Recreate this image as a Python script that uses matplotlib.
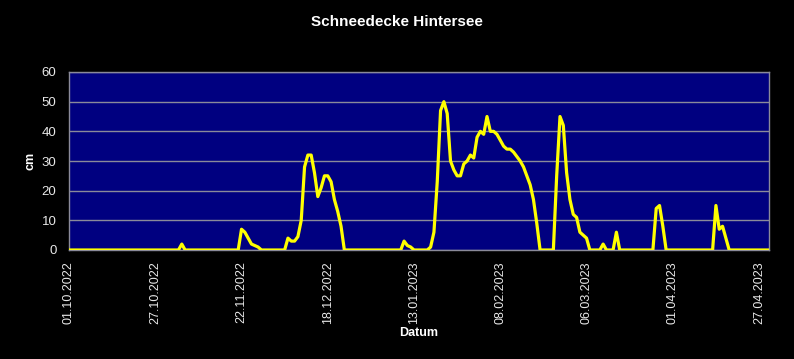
"""Schneedecke Hintersee, Winter 2022/23."""

import matplotlib

matplotlib.use("Agg")
import matplotlib.dates as mdates
import matplotlib.pyplot as plt
import numpy as np

plt.rcParams["font.family"] = ["Liberation Sans", "DejaVu Sans"]

# --- data: days after start date and snow depth (cm) ---
start = np.datetime64("2022-10-01")
day = [0, 33, 34, 35, 51, 52, 53, 54, 55, 56, 57, 58,
       65, 66, 67, 68, 69, 70, 71, 72, 73, 74, 75, 76, 77, 78, 79, 80, 81, 82, 83,
       100, 101, 102, 103, 104,
       108, 109, 110, 111, 112, 113, 114, 115, 116, 117, 118, 119, 120, 121, 122,
       123, 124, 125, 126, 127, 128, 129, 130, 131, 132, 133, 134, 135, 136, 137,
       138, 139, 140, 141, 142,
       146, 147, 148, 149, 150, 151, 152, 153, 154, 155, 156, 157,
       160, 161, 162, 164, 165, 166,
       176, 177, 178, 179, 180,
       194, 195, 196, 197, 198, 199, 211]
snow_cm = [0, 0, 2, 0, 0, 7, 6, 4, 2, 1.5, 1, 0,
           0, 4, 3, 3, 4.5, 10, 28, 32, 32, 26, 18, 21, 25, 25, 23, 17, 13, 8, 0,
           0, 3, 1.5, 1, 0,
           0, 1, 6, 23, 47, 50, 46, 30, 27, 25, 25, 29, 30, 32, 31,
           38, 40, 39, 45, 40, 40, 39, 37, 35, 34, 34, 33, 31.5, 30, 28,
           25, 22, 17, 9, 0,
           0, 25, 45, 42, 26, 17, 12, 11, 6, 5, 4, 0,
           0, 2, 0, 0, 6, 0,
           0, 14, 15, 8, 0,
           0, 15, 7, 8, 4, 0, 0]
tick_days = [0, 26, 52, 78, 104, 130, 156, 182, 208]
y_ticks = [0, 10, 20, 30, 40, 50, 60]

dates = start + np.array(day).astype("timedelta64[D]")
tick_dates = start + np.array(tick_days).astype("timedelta64[D]")

fig = plt.figure(figsize=(7.94, 3.59), dpi=100, facecolor="black")
ax = fig.add_axes([69 / 794, 109 / 359, 700 / 794, 178 / 359])
ax.set_facecolor("#000080")

ax.plot(dates, snow_cm, color="#FFFF00", lw=2.3, solid_joinstyle="round", zorder=3)

ax.set_xlim(start, start + np.timedelta64(211, "D"))
ax.set_ylim(0, 60)
ax.set_yticks(y_ticks)
ax.set_xticks(tick_dates)
ax.xaxis.set_major_formatter(mdates.DateFormatter("%d.%m.%Y"))
ax.grid(axis="y", color="#8a8a9a", lw=1)
ax.set_axisbelow(True)

ax.tick_params(axis="x", length=0, pad=8, labelsize=9, labelcolor="#e8e8e8", labelrotation=90)
ax.tick_params(axis="y", length=0, pad=9, labelsize=9.5, labelcolor="#e8e8e8")
for side in ax.spines.values():
    side.set_color("#8a8a9a")
    side.set_linewidth(1)

fig.text(0.5, 1 - 22 / 359, "Schneedecke Hintersee", color="white", fontsize=11,
         fontweight="bold", ha="center", va="center")
ax.set_xlabel("Datum", color="white", fontsize=9, fontweight="bold", labelpad=2)
ax.set_ylabel("cm", color="white", fontsize=9, fontweight="bold", labelpad=4)

fig.savefig("out.png", dpi=100, facecolor="black")
